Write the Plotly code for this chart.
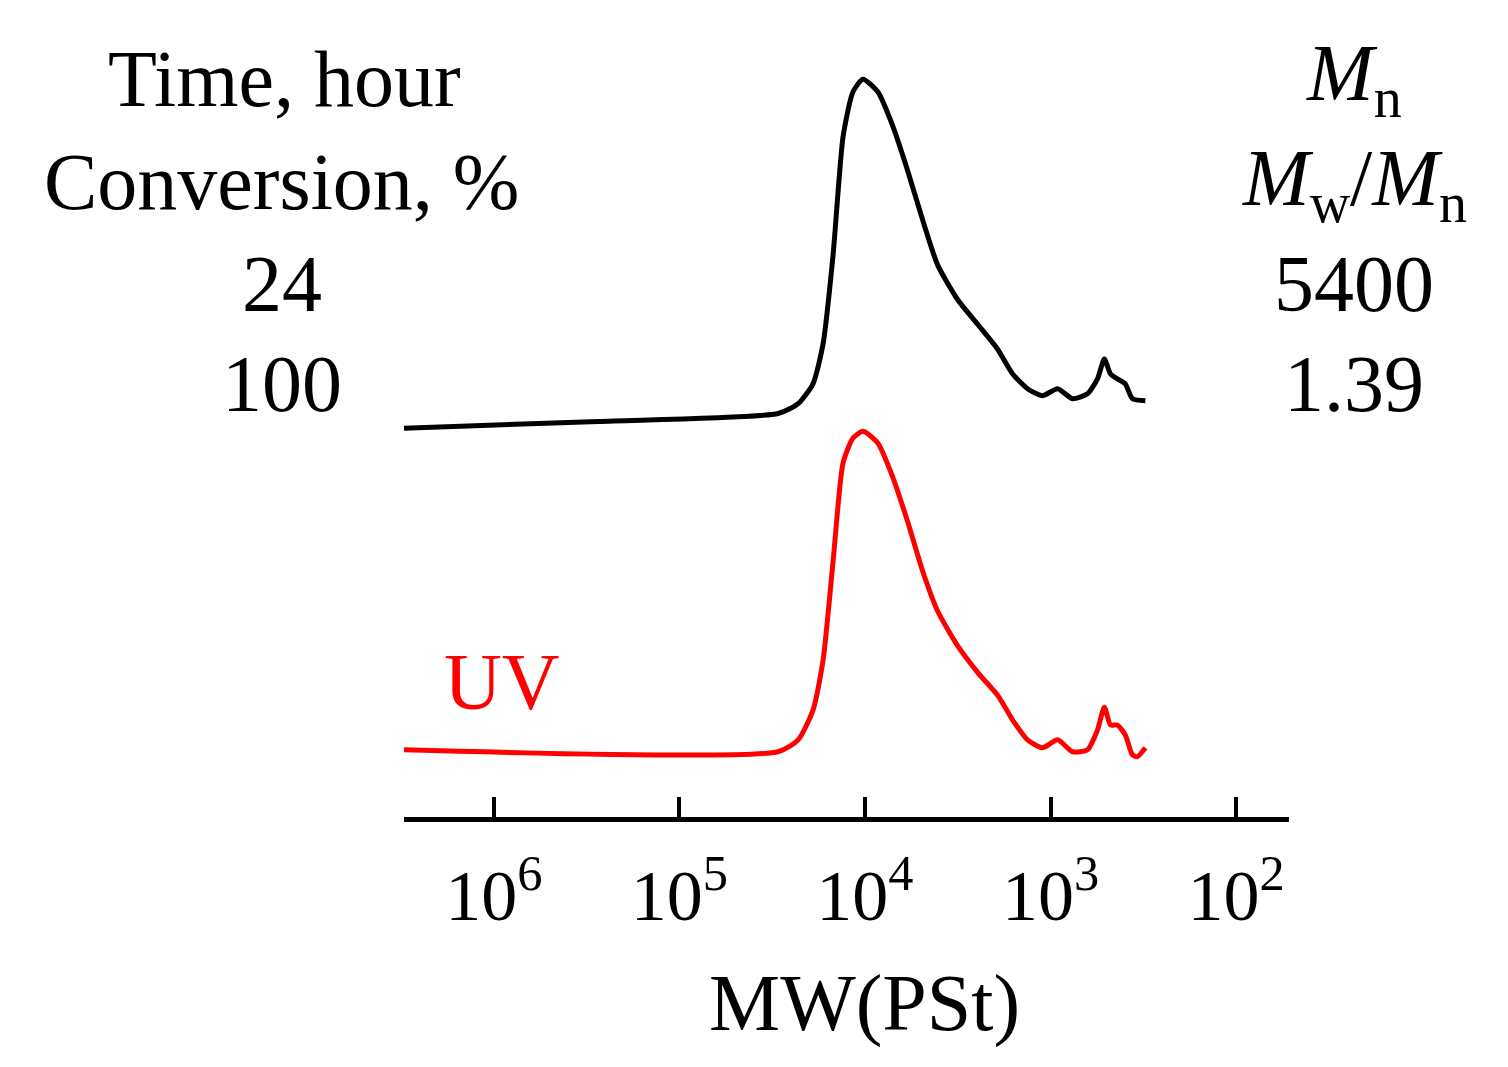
import numpy as np
import plotly.graph_objects as go

# log10(MW) positions and detector intensities (arbitrary units)
black_logmw = [6.484,5.435,4.468,4.360,4.280,4.226,4.172,4.118,4.065,4.011,3.930,3.849,3.769,3.688,3.608,3.500,3.392,3.285,3.204,3.124,3.043,2.962,2.882,2.801,2.747,2.710,2.677,2.640,2.597,2.559,2.489]
black_int = [393,400,408,418,438,478,568,688,733,746,733,698,653,603,558,523,498,473,448,433,426,433,423,428,443,463,448,443,438,423,421]
red_logmw = [6.484,4.468,4.360,4.280,4.226,4.172,4.118,4.065,4.011,3.930,3.849,3.769,3.688,3.608,3.500,3.392,3.285,3.204,3.124,3.043,2.962,2.882,2.801,2.747,2.710,2.677,2.640,2.597,2.559,2.532,2.489]
red_int = [68,66,78,108,158,258,358,383,390,378,343,298,248,208,173,146,123,98,78,70,78,66,68,88,111,93,93,83,63,61,70]
tick_vals = [1e6,1e5,1e4,1e3,1e2]
tick_text = ["10<sup>6</sup>","10<sup>5</sup>","10<sup>4</sup>","10<sup>3</sup>","10<sup>2</sup>"]

W, H = 1508, 1067
OFF = 9  # page offset observed in rendering
L, R, B = 405, 1290, 818
Lm, Rm, Bm = L - OFF, R - OFF, B - OFF
def px(x): return (x - OFF - Lm) / (Rm - Lm)
def py(y): return (Bm - (y - OFF)) / Bm

font = "Liberation Serif, Times New Roman, serif"
fig = go.Figure()
fig.add_trace(go.Scatter(x=10**np.array(black_logmw), y=black_int, mode="lines",
                         line=dict(color="black", width=5, shape="spline", smoothing=0.6), showlegend=False))
fig.add_trace(go.Scatter(x=10**np.array(red_logmw), y=red_int, mode="lines",
                         line=dict(color="#ff0000", width=5, shape="spline", smoothing=0.6), showlegend=False))

ann = [
    ("Time, hour", 285, 80, "black"), ("Conversion, %", 283, 183, "black"),
    ("24", 283, 285, "black"), ("100", 283, 385, "black"),
    ("<i>M</i><sub>n</sub>", 1355, 80, "black"),
    ("<i>M</i><sub>w</sub>/<i>M</i><sub>n</sub>", 1355, 185, "black"),
    ("5400", 1355, 285, "black"), ("1.39", 1355, 385, "black"),
    ("UV", 503, 683, "#ff0000"), ("MW(PSt)", 865, 1005, "black"),
]
for t, x, y, c in ann:
    fig.add_annotation(text=t, x=px(x), y=py(y), xref="paper", yref="paper",
                       showarrow=False, xanchor="center", yanchor="middle",
                       font=dict(family=font, size=80, color=c))

fig.update_layout(
    width=W, height=H, plot_bgcolor="white", paper_bgcolor="white",
    margin=dict(l=Lm, r=W - Rm, t=0, b=H - Bm),
    xaxis=dict(type="log", range=[6.484, 1.715], showgrid=False, zeroline=False,
               showline=True, linecolor="black", linewidth=5,
               ticks="inside", ticklen=20, tickwidth=4, tickcolor="black",
               tickvals=tick_vals, ticktext=tick_text, ticklabelstandoff=12,
               tickfont=dict(family=font, size=72, color="black")),
    yaxis=dict(range=[0, B], visible=False),
)
fig.write_html("out.html")
